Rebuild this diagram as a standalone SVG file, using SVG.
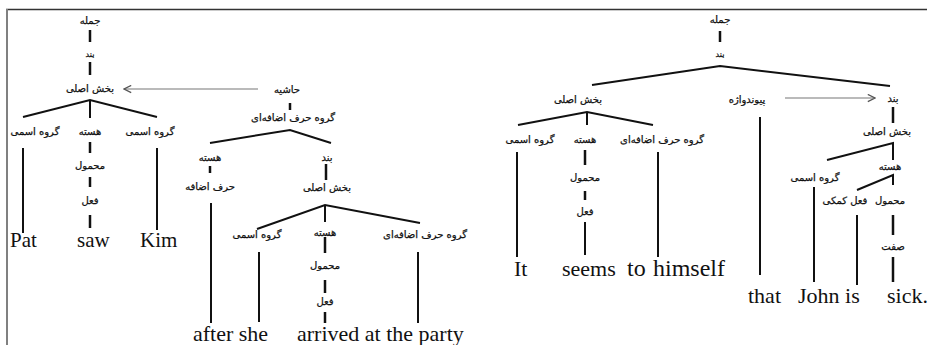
<svg xmlns="http://www.w3.org/2000/svg" width="927" height="345" viewBox="0 0 927 345">
  <style>
    .fa { font-family: "DejaVu Sans", "Noto Sans", sans-serif; font-size: 10px; fill: #111; stroke: #111; stroke-width: 0.25; text-anchor: middle; }
    .en { font-family: "Liberation Serif", "Times New Roman", serif; font-size: 22px; fill: #111; }
    .en21 { font-size: 21px; }
    .en24 { font-size: 24px; }
    .edge { stroke: #111; stroke-width: 2; fill: none; stroke-linecap: butt; }
    .bar { stroke: #111; stroke-width: 2.5; fill: none; }
    .move { stroke: #777; stroke-width: 1.2; fill: none; }
    .frame-top { stroke: #333; stroke-width: 1.6; }
    .frame-left { stroke: #808080; stroke-width: 2; }
  </style>
  <defs>
    <marker id="open-head" viewBox="0 0 10 10" refX="9" refY="5" markerWidth="9" markerHeight="9" markerUnits="userSpaceOnUse" orient="auto">
      <path d="M1,1 L9,5 L1,9" fill="none" stroke="#555" stroke-width="1.4"/>
    </marker>
  </defs>

  <rect width="927" height="345" fill="#fff"/>
  <line class="frame-top" x1="6" y1="9.5" x2="927" y2="9.5"/>
  <line class="frame-left" x1="7" y1="9" x2="7" y2="345"/>

  <!-- connectors -->
  <g id="connectors">
    <!-- left tree -->
    <line class="bar" x1="90" y1="30" x2="90" y2="42"/>
    <line class="bar" x1="90" y1="62" x2="90" y2="75"/>
    <line class="move" x1="258" y1="89" x2="124" y2="89" marker-end="url(#open-head)"/>
    <polyline class="edge" points="23,117 90,100 157,117"/>
    <line class="edge" x1="90" y1="100" x2="90" y2="118"/>
    <line class="edge" x1="23" y1="148" x2="23" y2="233"/>
    <line class="bar" x1="90" y1="142" x2="90" y2="153"/>
    <line class="bar" x1="90" y1="177" x2="90" y2="187"/>
    <line class="bar" x1="90" y1="215" x2="90" y2="228"/>
    <line class="edge" x1="157" y1="148" x2="157" y2="230"/>
    <line class="bar" x1="290" y1="103" x2="290" y2="110"/>
    <polyline class="edge" points="210,143 290,130 331,143"/>
    <line class="bar" x1="210" y1="166" x2="210" y2="173"/>
    <line class="bar" x1="326" y1="164" x2="326" y2="180"/>
    <line class="edge" x1="211" y1="203" x2="211" y2="323"/>
    <polyline class="edge" points="257,229 325,205 420,223"/>
    <line class="edge" x1="325" y1="205" x2="325" y2="222"/>
    <line class="edge" x1="259" y1="252" x2="259" y2="322"/>
    <line class="bar" x1="325" y1="237" x2="325" y2="253"/>
    <line class="bar" x1="325" y1="280" x2="325" y2="293"/>
    <line class="bar" x1="325" y1="312" x2="325" y2="323"/>
    <line class="edge" x1="418" y1="252" x2="418" y2="323"/>

    <!-- right tree -->
    <line class="bar" x1="720" y1="31" x2="720" y2="42"/>
    <polyline class="edge" points="592,85 720,66 890,86"/>
    <line class="move" x1="785" y1="98" x2="875" y2="98" marker-end="url(#open-head)"/>
    <polyline class="edge" points="518,125 587,112 653,125"/>
    <line class="edge" x1="587" y1="112" x2="587" y2="125"/>
    <line class="edge" x1="517" y1="152" x2="517" y2="257"/>
    <line class="bar" x1="585" y1="150" x2="585" y2="165"/>
    <line class="bar" x1="585" y1="191" x2="585" y2="200"/>
    <line class="edge" x1="585" y1="222" x2="585" y2="255"/>
    <line class="edge" x1="658" y1="152" x2="658" y2="257"/>
    <line class="edge" x1="760" y1="117" x2="760" y2="275"/>
    <line class="bar" x1="893" y1="107" x2="893" y2="123"/>
    <polyline class="edge" points="827,160 893,143 893,160"/>
    <line class="edge" x1="814" y1="187" x2="814" y2="282"/>
    <polyline class="edge" points="857,190 893,175 893,185"/>
    <line class="edge" x1="857" y1="215" x2="857" y2="285"/>
    <line class="bar" x1="893" y1="215" x2="893" y2="235"/>
    <line class="bar" x1="893" y1="257" x2="893" y2="282"/>
  </g>

  <!-- left tree nodes -->
  <g id="l-jomle"><text class="fa" x="90" y="24">جمله</text></g>
  <g id="l-band"><text class="fa" x="90" y="57" style="font-size:8px">بند</text></g>
  <g id="l-bakhsh"><text class="fa" x="90" y="92">بخش اصلی</text></g>
  <g id="l-np1"><text class="fa" x="35" y="135">گروه اسمی</text></g>
  <g id="l-head"><text class="fa" x="90" y="135">هسته</text></g>
  <g id="l-pred"><text class="fa" x="90" y="169">محمول</text></g>
  <g id="l-verb"><text class="fa" x="90" y="204">فعل</text></g>
  <g id="l-np2"><text class="fa" x="150" y="135">گروه اسمی</text></g>
  <g id="l-pat"><text class="en en21" x="10" y="247">Pat</text></g>
  <g id="l-saw"><text class="en en21" x="77" y="247">saw</text></g>
  <g id="l-kim"><text class="en en21" x="140" y="247">Kim</text></g>

  <g id="l-hashie"><text class="fa" x="287" y="93">حاشیه</text></g>
  <g id="l-pp"><text class="fa" x="293" y="121">گروه حرف اضافه&#8204;ای</text></g>
  <g id="l-pp-head"><text class="fa" x="210" y="161">هسته</text></g>
  <g id="l-prep"><text class="fa" x="210" y="190">حرف اضافه</text></g>
  <g id="l-band2"><text class="fa" x="327" y="161">بند</text></g>
  <g id="l-bakhsh2"><text class="fa" x="327" y="191">بخش اصلی</text></g>
  <g id="l-np3"><text class="fa" x="257" y="238">گروه اسمی</text></g>
  <g id="l-head2"><text class="fa" x="325" y="236">هسته</text></g>
  <g id="l-pred2"><text class="fa" x="325" y="269">محمول</text></g>
  <g id="l-verb2"><text class="fa" x="325" y="305">فعل</text></g>
  <g id="l-pp2"><text class="fa" x="425" y="238">گروه حرف اضافه&#8204;ای</text></g>
  <g id="l-after-she"><text class="en" x="193" y="341">after she</text></g>
  <g id="l-arrived"><text class="en" x="297" y="341">arrived at the party</text></g>

  <!-- right tree nodes -->
  <g id="r-jomle"><text class="fa" x="720" y="23">جمله</text></g>
  <g id="r-band"><text class="fa" x="720" y="57" style="font-size:8px">بند</text></g>
  <g id="r-bakhsh"><text class="fa" x="578" y="103">بخش اصلی</text></g>
  <g id="r-conj"><text class="fa" x="747" y="103">پیوندواژه</text></g>
  <g id="r-band2"><text class="fa" x="893" y="102">بند</text></g>
  <g id="r-np"><text class="fa" x="530" y="143">گروه اسمی</text></g>
  <g id="r-head"><text class="fa" x="585" y="143">هسته</text></g>
  <g id="r-pp"><text class="fa" x="662" y="143">گروه حرف اضافه&#8204;ای</text></g>
  <g id="r-pred"><text class="fa" x="585" y="181">محمول</text></g>
  <g id="r-verb"><text class="fa" x="585" y="215">فعل</text></g>
  <g id="r-it"><text class="en" x="514" y="276">It</text></g>
  <g id="r-seems"><text class="en" x="562" y="276">seems</text></g>
  <g id="r-himself"><text class="en en24" x="627" y="276">to</text><text class="en en24" x="653" y="276">himself</text></g>

  <g id="r-bakhsh2"><text class="fa" x="887" y="135">بخش اصلی</text></g>
  <g id="r-np2"><text class="fa" x="815" y="181">گروه اسمی</text></g>
  <g id="r-head2"><text class="fa" x="890" y="170">هسته</text></g>
  <g id="r-aux"><text class="fa" x="845" y="204">فعل کمکی</text></g>
  <g id="r-pred2"><text class="fa" x="890" y="204">محمول</text></g>
  <g id="r-adj"><text class="fa" x="893" y="250">صفت</text></g>
  <g id="r-that"><text class="en" x="748" y="303">that</text></g>
  <g id="r-john"><text class="en" x="798" y="303">John is</text></g>
  <g id="r-sick"><text class="en" x="887" y="303">sick.</text></g>
</svg>
